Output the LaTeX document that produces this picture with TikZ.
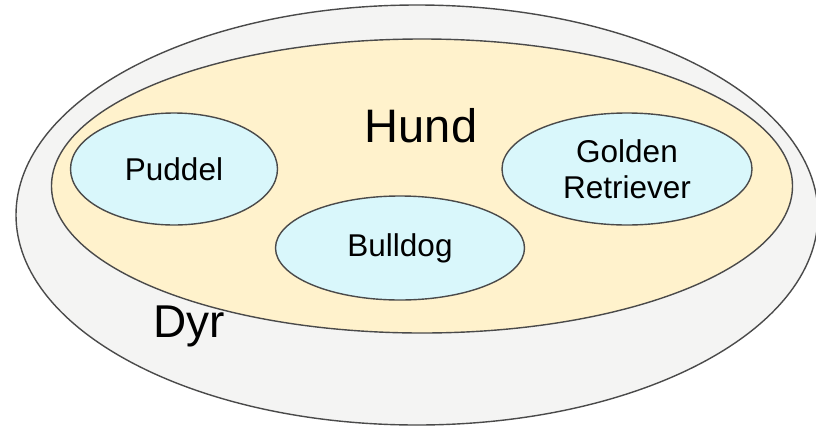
\documentclass[tikz,border=0pt]{standalone}
\usepackage{fontspec}
\setmainfont{Liberation Sans}
\usetikzlibrary{shapes.geometric}

\definecolor{dyrfill}{HTML}{F4F4F3}
\definecolor{hundfill}{HTML}{FFF2CC}
\definecolor{rasefill}{HTML}{D9F7FB}
\definecolor{linegray}{HTML}{4A4A4A}

\begin{document}
\begin{tikzpicture}[x=1pt, y=-1pt,
    set/.style={ellipse, draw=linegray, line width=1.4pt, inner sep=0pt},
    rase/.style={set, fill=rasefill, align=center, font=\fontsize{31.5}{36}\selectfont}]
    \useasboundingbox (0,0) rectangle (816,426);
    \clip (0,0) rectangle (816,426);

    % dyr
    \node [set, fill=dyrfill, minimum width=802, minimum height=420] (dyr) at (417,215) {};
    \node [font=\fontsize{46}{50}\selectfont, anchor=base] (dyrtext) at (189,337) {Dyr};

    % hund
    \node [set, fill=hundfill, minimum width=741, minimum height=294] (hund) at (422,186) {};
    \node [font=\fontsize{47}{50}\selectfont, anchor=base] (hundtext) at (421,142) {Hund};

    % raser
    \node [rase, minimum width=207, minimum height=112] (puddel) at (174,169) {Puddel};
    \node [rase, minimum width=249, minimum height=104] (bulldog) at (400,248) {Bulldog};
    \node [rase, minimum width=250, minimum height=112] (golden) at (627,169) {Golden\\Retriever};

\end{tikzpicture}
\end{document}
